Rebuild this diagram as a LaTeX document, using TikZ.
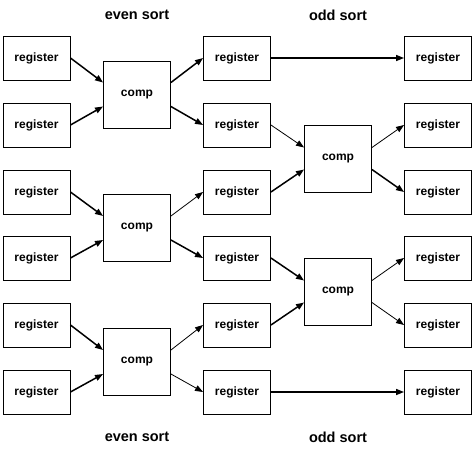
\documentclass[tikz,border=0pt]{standalone}
\usepackage{fontspec}
\setmainfont{Liberation Sans}
\usetikzlibrary{arrows.meta}
\begin{document}
\begin{tikzpicture}[x=1pt,y=-1pt,
  reg/.style={draw,line width=0.9pt,minimum width=67pt,minimum height=44pt,inner sep=0pt,font=\fontsize{12}{14}\selectfont\bfseries},
  cmp/.style={draw,line width=0.9pt,minimum width=67pt,minimum height=67pt,inner sep=0pt,font=\fontsize{12}{14}\selectfont\bfseries},
  ttl/.style={font=\fontsize{14.5}{16}\selectfont\bfseries},
  thk/.style={line width=1.5pt,-{Triangle[length=8pt,width=6pt]}},
  thn/.style={line width=0.8pt,-{Triangle[length=8pt,width=6pt]}}]
\useasboundingbox (0,0) rectangle (474,453);
\fill[white] (0,0) rectangle (474,453);
% titles
\node[ttl] (t1) at (137,15) {even sort};
\node[ttl] (t2) at (338,15) {odd sort};
\node[ttl] (t3) at (137,437) {even sort};
\node[ttl] (t4) at (338,437) {odd sort};
% registers
\foreach \c/\x in {1/36.5,2/237,3/438}{
  \foreach \r/\y in {1/58,2/125,3/192,4/258,5/325,6/392}{
    \node[reg] (r\c\r) at (\x,\y) {register};
  }
}
% comparators
\node[cmp] (e1) at (137,94.5) {comp};
\node[cmp] (e2) at (137,228) {comp};
\node[cmp] (e3) at (137,362) {comp};
\node[cmp] (o1) at (338,158.5) {comp};
\node[cmp] (o2) at (338,291.5) {comp};
% even stage
\draw[thk] (r11.east) -- ([yshift=12pt]e1.west);
\draw[thk] (r12.east) -- ([yshift=-12pt]e1.west);
\draw[thk] ([yshift=12pt]e1.east) -- (r21.west);
\draw[thk] ([yshift=-12pt]e1.east) -- (r22.west);
\draw[thk] (r13.east) -- ([yshift=12pt]e2.west);
\draw[thk] (r14.east) -- ([yshift=-12pt]e2.west);
\draw[thn] ([yshift=12pt]e2.east) -- (r23.west);
\draw[thk] ([yshift=-12pt]e2.east) -- (r24.west);
\draw[thk] (r15.east) -- ([yshift=12pt]e3.west);
\draw[thk] (r16.east) -- ([yshift=-12pt]e3.west);
\draw[thn] ([yshift=12pt]e3.east) -- (r25.west);
\draw[thn] ([yshift=-12pt]e3.east) -- (r26.west);
% odd stage
\draw[thk] (r21.east) -- (r31.west);
\draw[thn] (r22.east) -- ([yshift=11pt]o1.west);
\draw[thk] (r23.east) -- ([yshift=-11pt]o1.west);
\draw[thn] ([yshift=11pt]o1.east) -- (r32.west);
\draw[thk] ([yshift=-11pt]o1.east) -- (r33.west);
\draw[thk] (r24.east) -- ([yshift=11pt]o2.west);
\draw[thk] (r25.east) -- ([yshift=-11pt]o2.west);
\draw[thn] ([yshift=11pt]o2.east) -- (r34.west);
\draw[thn] ([yshift=-11pt]o2.east) -- (r35.west);
\draw[thk] (r26.east) -- (r36.west);
\end{tikzpicture}
\end{document}
